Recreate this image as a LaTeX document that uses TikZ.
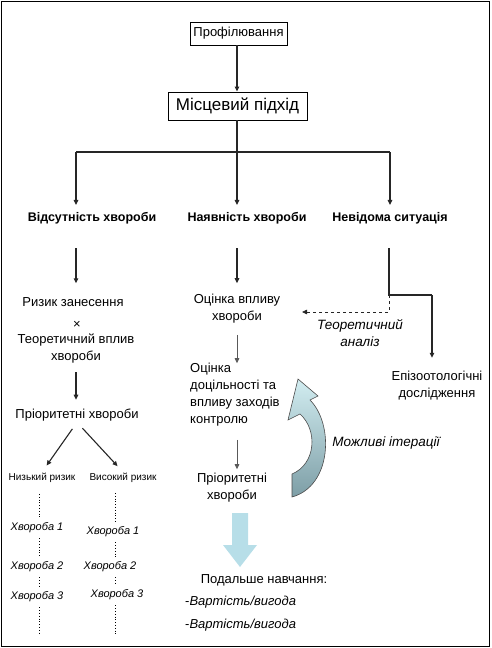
\documentclass[tikz,border=0pt]{standalone}
\usepackage{fontspec}
\setmainfont{Liberation Sans}
\usetikzlibrary{arrows.meta}
\definecolor{iterlight}{RGB}{210,237,241}
\definecolor{iterdark}{RGB}{125,158,166}
\definecolor{bigblue}{RGB}{183,222,232}

\begin{document}
\begin{tikzpicture}[x=1pt, y=-1pt,
	every node/.style={font=\fontsize{13}{17}\selectfont, inner sep=1pt, align=center},
	>={Triangle[length=5pt,width=4.5pt]},
	box/.style={draw, line width=0.9pt},
	lbl/.style={font=\bfseries\fontsize{12.5}{14}\selectfont},
	ital/.style={font=\itshape\fontsize{13.5}{17}\selectfont},
	riskt/.style={font=\fontsize{10}{12}\selectfont},
	dis/.style={font=\itshape\fontsize{11}{12}\selectfont},
	line/.style={line width=1.1pt, black!85},
	link/.style={->, line width=1.1pt, black!85},
	thinlink/.style={->, line width=0.8pt, black!65},
	dotl/.style={dotted, line width=0.8pt, shorten <=4pt, shorten >=4pt}]
	\useasboundingbox (0,0) rectangle (491,648);
	\draw[line width=1pt] (1,1) rectangle (489,646);

	% top boxes
	\node[box, minimum width=97, minimum height=23] (prof) at (238.5,33.5) {Профілювання};
	\node[box, font=\fontsize{17}{18}\selectfont, minimum width=139, minimum height=28] (misc) at (237.5,106) {Місцевий підхід};
	\coordinate (split) at (237,152);
	\coordinate (sl) at (76,152);
	\coordinate (sr) at (390,152);
	\draw[link] (prof.south -| split) -- (misc.north -| split);
	\draw[line] (misc.south -| split) -- (split);
	\draw[line] (sl) -- (sr);

	% three cases
	\node[lbl] (absent) at (92,218) {Відсутність хвороби};
	\node[lbl] (present) at (247,218) {Наявність хвороби};
	\node[lbl] (unknown) at (390,218) {Невідома ситуація};
	\draw[link, shorten >=6pt] (sl) -- (sl |- absent.north);
	\draw[link, shorten >=6pt] (split) -- (split |- present.north);
	\draw[link, shorten >=6pt] (sr) -- (sr |- unknown.north);

	% left branch
	\node (risk) at (73,302) {Ризик занесення};
	\node (times) at (77,325) {×};
	\node (impact) at (76,348.5) {Теоретичний вплив\\хвороби};
	\node (prio1) at (77,415) {Пріоритетні хвороби};
	\draw[link, shorten <=23pt, shorten >=13pt] (absent.south -| sl) -- (risk.north -| sl);
	\draw[link, shorten <=8pt, shorten >=8pt] (impact.south -| sl) -- (prio1.north -| sl);
	\node[riskt] (low) at (42,478) {Низький ризик};
	\node[riskt] (high) at (123,478) {Високий ризик};
	\draw[link, shorten <=8pt, shorten >=8pt] (prio1.south) -- (low.north);
	\draw[link, shorten <=8pt, shorten >=8pt] (prio1.south) -- (high.north);
	\node[dis] (l1) at (37,528) {Хвороба 1};
	\node[dis] (l2) at (37,567) {Хвороба 2};
	\node[dis] (l3) at (37,597) {Хвороба 3};
	\node[dis] (h1) at (113,532) {Хвороба 1};
	\node[dis] (h2) at (110,567) {Хвороба 2};
	\node[dis] (h3) at (117,595) {Хвороба 3};
	\coordinate (lx) at (39,635);
	\coordinate (hx) at (115,635);
	\draw[dotl, shorten <=10pt] (low.south -| lx) -- (l1.north -| lx);
	\draw[dotl] (l1.south -| lx) -- (l2.north -| lx);
	\draw[dotl] (l2.south -| lx) -- (l3.north -| lx);
	\draw[dotl, shorten >=0pt] (l3.south -| lx) -- (lx);
	\draw[dotl, shorten <=9pt] (high.south -| hx) -- (h1.north -| hx);
	\draw[dotl] (h1.south -| hx) -- (h2.north -| hx);
	\draw[dotl] (h2.south -| hx) -- (h3.north -| hx);
	\draw[dotl, shorten >=0pt] (h3.south -| hx) -- (hx);

	% middle branch
	\node (eval) at (237,309) {Оцінка впливу\\хвороби};
	\node[anchor=west, align=left, inner sep=0pt] (ctrl) at (190,395) {Оцінка\\доцільності та\\впливу заходів\\контролю};
	\node (prio2) at (232,488) {Пріоритетні\\хвороби};
	\draw[link, shorten <=23pt, shorten >=10pt] (present.south -| split) -- (eval.north -| split);
	\draw[thinlink, shorten <=10pt] (eval.south -| split) -- (ctrl.north -| split);
	\draw[thinlink, shorten <=13pt, shorten >=3pt] (ctrl.south -| split) -- (prio2.north -| split);
	\fill[bigblue] (232,513) -- (248,513) -- (248,545) -- (257,545) -- (240,567) -- (223,545) -- (232,545) -- cycle;
	\node (further) at (264,580) {Подальше навчання:};
	\node[anchor=west] (cost1) at (184,602) {-\textit{Вартість/вигода}};
	\node[anchor=west] (cost2) at (184,625) {-\textit{Вартість/вигода}};

	% iterations
	\shade[top color=iterlight, bottom color=iterdark, draw=black!70, line width=0.6pt]
		(292,474) .. controls (316,464) and (318,430) .. (300,414) -- (288,420) -- (298,379)
		-- (318,396) -- (310,400) .. controls (334,424) and (332,486) .. (292,497) -- cycle;
	\node[ital] (iter) at (386,443) {Можливі ітерації};

	% right branch
	\coordinate (rj) at (389,295);
	\coordinate (rc) at (432,295);
	\coordinate (dj) at (389,312);
	\coordinate (dtip) at (302,312);
	\node (epi) at (437,385.5) {Епізоотологічні\\дослідження};
	\draw[line, shorten <=23pt] (unknown.south -| rj) -- (rj) -- (rc);
	\draw[link, shorten >=12pt] (rc) -- (rc |- epi.north);
	\draw[->, dashed, line width=0.8pt, black!85] (rj) -- (dj) -- (dtip);
	\node[ital] (theo) at (360,333.5) {Теоретичний\\аналіз};
\end{tikzpicture}
\end{document}
